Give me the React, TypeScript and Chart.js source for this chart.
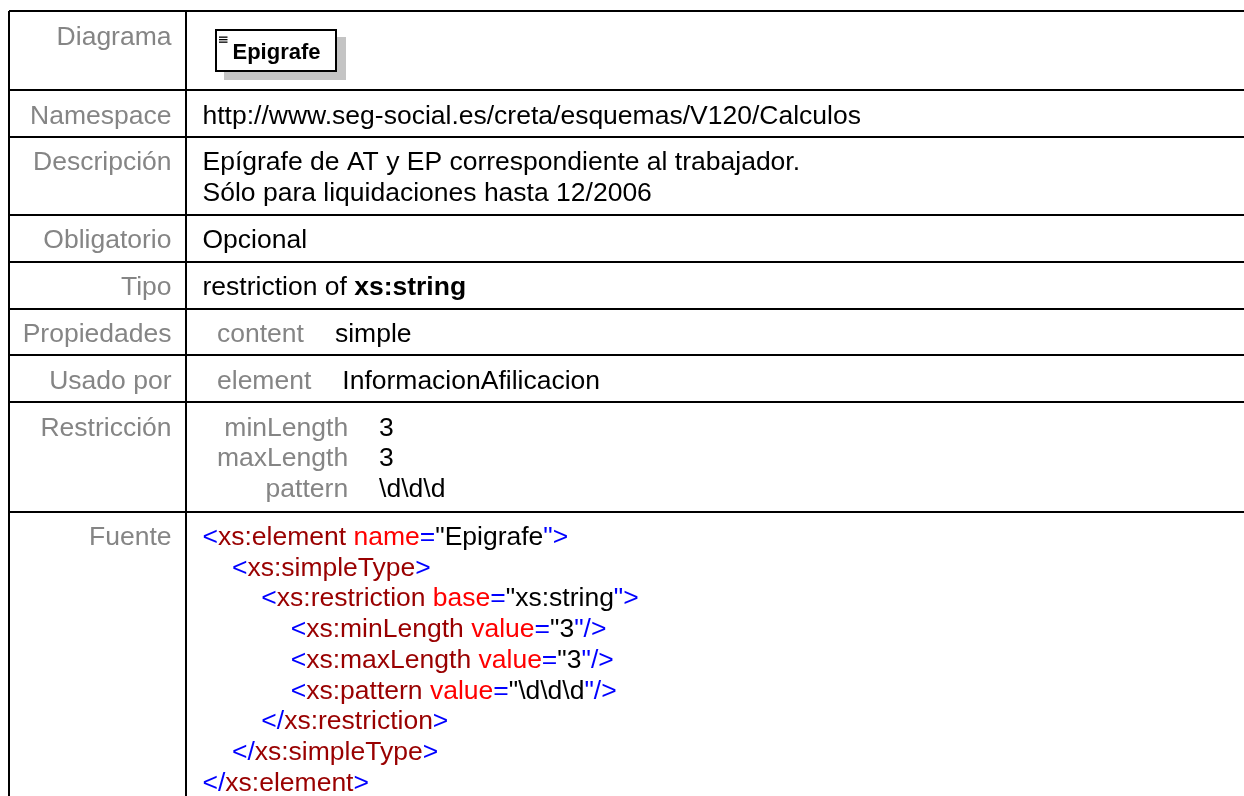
import React, { useEffect, useRef } from "react";
import { Chart, registerables } from "chart.js";

Chart.register(...registerables);

// ---------- data ----------
const rowLabels = [
  "Diagrama",
  "Namespace",
  "Descripción",
  "Obligatorio",
  "Tipo",
  "Propiedades",
  "Usado por",
  "Restricción",
  "Fuente",
];
const diagramName = "Epigrafe";
const namespaceLines = ["http://www.seg-social.es/creta/esquemas/V120/Calculos"];
const descriptionLines = [
  "Epígrafe de AT y EP correspondiente al trabajador.",
  "Sólo para liquidaciones hasta 12/2006",
];
const obligatorioLines = ["Opcional"];
const tipoPlain = "restriction of ";
const tipoBold = "xs:string";
const propiedadesKeys = ["content"];
const propiedadesValues = ["simple"];
const usadoPorKeys = ["element"];
const usadoPorValues = ["InformacionAfilicacion"];
const restriccionKeys = ["minLength", "maxLength", "pattern"];
const restriccionValues = ["3", "3", "\\d\\d\\d"];

// source listing: kind p = markup punctuation, e = element name, a = attribute name, v = value, s = space
type Tok = [string, string];
const sourceIndent = [0, 1, 2, 3, 3, 3, 2, 1, 0];
const sourceLines: Tok[][] = [
  [["p", "<"], ["e", "xs:element"], ["s", " "], ["a", "name"], ["p", "="], ["v", "\"Epigrafe"], ["p", "\">"]],
  [["p", "<"], ["e", "xs:simpleType"], ["p", ">"]],
  [["p", "<"], ["e", "xs:restriction"], ["s", " "], ["a", "base"], ["p", "="], ["v", "\"xs:string"], ["p", "\">"]],
  [["p", "<"], ["e", "xs:minLength"], ["s", " "], ["a", "value"], ["p", "="], ["v", "\"3"], ["p", "\"/>"]],
  [["p", "<"], ["e", "xs:maxLength"], ["s", " "], ["a", "value"], ["p", "="], ["v", "\"3"], ["p", "\"/>"]],
  [["p", "<"], ["e", "xs:pattern"], ["s", " "], ["a", "value"], ["p", "="], ["v", "\"\\d\\d\\d"], ["p", "\"/>"]],
  [["p", "</"], ["e", "xs:restriction"], ["p", ">"]],
  [["p", "</"], ["e", "xs:simpleType"], ["p", ">"]],
  [["p", "</"], ["e", "xs:element"], ["p", ">"]],
];

// number of text lines per row (row 0 holds the diagram)
const rowLineCounts = [
  0,
  namespaceLines.length,
  descriptionLines.length,
  obligatorioLines.length,
  1,
  propiedadesKeys.length,
  usadoPorKeys.length,
  restriccionKeys.length,
  sourceLines.length,
];

// ---------- layout / style ----------
const W = 1244;
const H = 796;
const TABLE_LEFT = 9;
const TABLE_TOP = 11;
const DIVIDER_X = 186;
const DIAGRAM_ROW_H = 79;
const ROW_PAD = 15.5;
const ROW_LINE = 31.3;
const FIRST_BASE = 33.5;
const LINE_H = 30.5;
const LABEL_RIGHT = 171.5;
const CONTENT_LEFT = 202.5;
const SUB_LEFT = 217;
const SUB_GAP = 31;
const INDENT = 29.4;
const FONT_FAMILY = '"Liberation Sans", Arial, Helvetica, sans-serif';
const FONT_SIZE = 26.5;
const GRAY = "#858585";
const BLACK = "#000000";
const BLUE = "#0000ff";
const MAROON = "#990000";
const RED = "#ff0000";

const rowTops: number[] = (() => {
  const tops = [TABLE_TOP];
  let y = TABLE_TOP + DIAGRAM_ROW_H;
  tops.push(y);
  for (let i = 1; i < rowLineCounts.length - 1; i++) {
    y += ROW_PAD + ROW_LINE * rowLineCounts[i];
    tops.push(y);
  }
  return tops;
})();

const tokenColor = (k: string) =>
  k === "p" ? BLUE : k === "e" ? MAROON : k === "a" ? RED : BLACK;

const tablePlugin = {
  id: "schemaTable",
  afterDraw(chart: any) {
    const ctx: CanvasRenderingContext2D = chart.ctx;
    const xs = chart.scales.x;
    const ys = chart.scales.y;
    const px = (v: number) => xs.getPixelForValue(v);
    const py = (v: number) => ys.getPixelForValue(v);
    const font = (bold = false, size = FONT_SIZE) =>
      `${bold ? "bold " : ""}${size}px ${FONT_FAMILY}`;

    ctx.save();
    ctx.textBaseline = "alphabetic";

    // row labels
    ctx.font = font();
    ctx.fillStyle = GRAY;
    ctx.textAlign = "right";
    rowLabels.forEach((lab, i) => {
      ctx.fillText(lab, px(LABEL_RIGHT), py(rowTops[i] + FIRST_BASE));
    });
    ctx.textAlign = "left";

    // diagram box
    const bx = 215, by = 29, bw = 122, bh = 43, sh = 9;
    ctx.fillStyle = "#c4c4c4";
    ctx.fillRect(px(bx + sh), py(by + sh - 1), bw, bh);
    ctx.fillStyle = "#ffffff";
    ctx.fillRect(px(bx), py(by), bw, bh);
    ctx.strokeStyle = "#000000";
    ctx.lineWidth = 2;
    ctx.strokeRect(px(bx) + 1, py(by) + 1, bw - 2, bh - 2);
    ctx.fillStyle = "#000000";
    [36.5, 39, 41.5].forEach((ly) => ctx.fillRect(px(219), py(ly), 8.5, 1.3));
    ctx.font = font(true, 22);
    ctx.fillText(diagramName, px(232.5), py(58.5));

    const textLines = (lines: string[], row: number) => {
      ctx.font = font();
      ctx.fillStyle = BLACK;
      lines.forEach((t, j) => {
        ctx.fillText(t, px(CONTENT_LEFT), py(rowTops[row] + FIRST_BASE + j * LINE_H));
      });
    };
    textLines(namespaceLines, 1);
    textLines(descriptionLines, 2);
    textLines(obligatorioLines, 3);

    // tipo
    ctx.font = font();
    ctx.fillStyle = BLACK;
    const ty = py(rowTops[4] + FIRST_BASE);
    ctx.fillText(tipoPlain, px(CONTENT_LEFT), ty);
    const tw = ctx.measureText(tipoPlain).width;
    ctx.font = font(true);
    ctx.fillText(tipoBold, px(CONTENT_LEFT) + tw, ty);

    // key / value sub tables
    const subTable = (keys: string[], vals: string[], row: number) => {
      ctx.font = font();
      const colW = Math.max(...keys.map((k) => ctx.measureText(k).width));
      keys.forEach((k, j) => {
        const y = py(rowTops[row] + FIRST_BASE + j * LINE_H);
        ctx.fillStyle = GRAY;
        ctx.textAlign = "right";
        ctx.fillText(k, px(SUB_LEFT) + colW, y);
        ctx.textAlign = "left";
        ctx.fillStyle = BLACK;
        ctx.fillText(vals[j], px(SUB_LEFT) + colW + SUB_GAP, y);
      });
    };
    subTable(propiedadesKeys, propiedadesValues, 5);
    subTable(usadoPorKeys, usadoPorValues, 6);
    subTable(restriccionKeys, restriccionValues, 7);

    // source listing
    ctx.font = font();
    sourceLines.forEach((toks, j) => {
      let x = px(CONTENT_LEFT + sourceIndent[j] * INDENT);
      const y = py(rowTops[8] + FIRST_BASE + j * 30.7);
      toks.forEach(([k, t]) => {
        ctx.fillStyle = tokenColor(k);
        ctx.fillText(t, x, y);
        x += ctx.measureText(t).width;
      });
    });

    ctx.restore();
  },
};

export default function App() {
  const ref = useRef<HTMLCanvasElement | null>(null);
  useEffect(() => {
    if (!ref.current) return;
    const chart = new Chart(ref.current, {
      type: "scatter",
      data: { datasets: [] },
      options: {
        animation: false,
        responsive: true,
        maintainAspectRatio: false,
        layout: { padding: { left: TABLE_LEFT, top: TABLE_TOP, right: 0, bottom: 0 } },
        plugins: { legend: { display: false }, tooltip: { enabled: false }, title: { display: false } },
        events: [],
        scales: {
          x: {
            type: "linear",
            min: TABLE_LEFT,
            max: W,
            position: "bottom",
            afterBuildTicks: (axis: any) => {
              axis.ticks = [TABLE_LEFT, DIVIDER_X].map((v) => ({ value: v }));
            },
            ticks: { display: false },
            border: { display: false },
            grid: { color: "#000000", lineWidth: 2, drawTicks: false },
          },
          y: {
            type: "linear",
            reverse: true,
            min: TABLE_TOP,
            max: H,
            position: "left",
            afterBuildTicks: (axis: any) => {
              axis.ticks = rowTops.map((v) => ({ value: v }));
            },
            ticks: { display: false },
            border: { display: false },
            grid: { color: "#000000", lineWidth: 2, drawTicks: false },
          },
        },
      },
      plugins: [tablePlugin],
    } as any);
    return () => chart.destroy();
  }, []);
  return (
    <div style={{ position: "absolute", left: 0, top: 0, width: W, height: H, background: "#ffffff" }}>
      <canvas ref={ref} />
    </div>
  );
}
